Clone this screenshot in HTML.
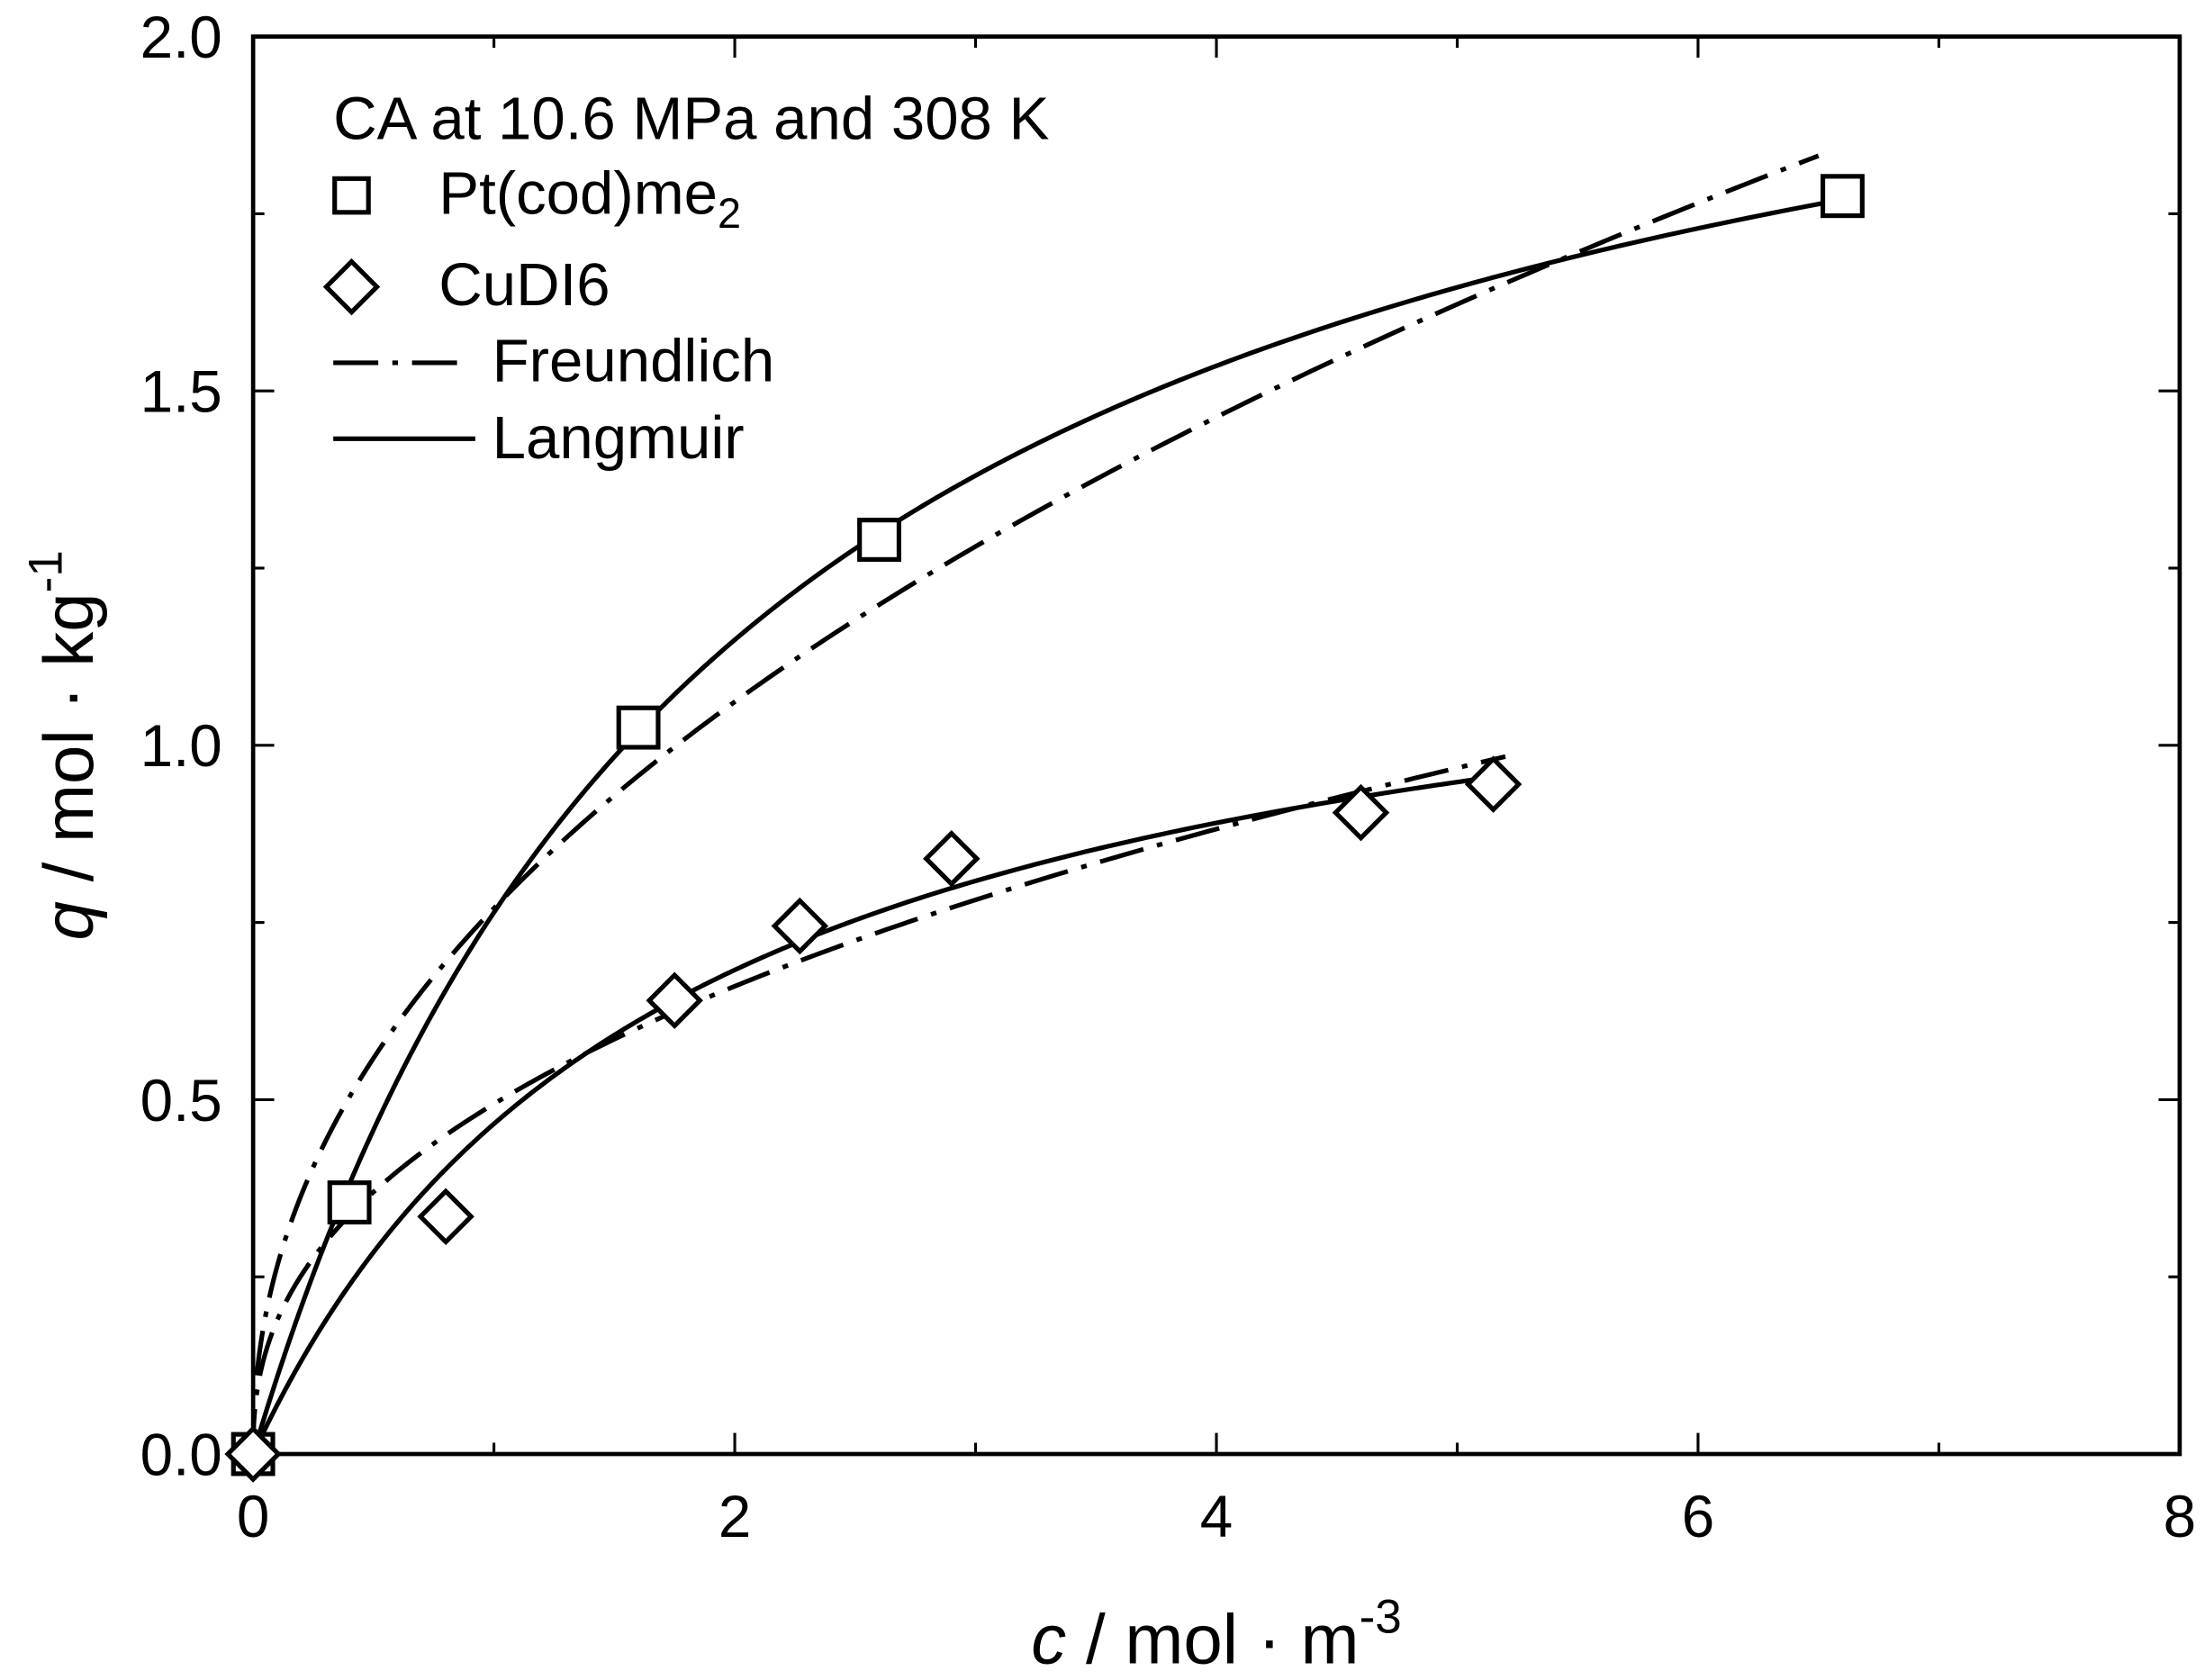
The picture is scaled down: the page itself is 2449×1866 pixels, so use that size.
<!DOCTYPE html>
<html><head><meta charset="utf-8"><style>
html,body{margin:0;padding:0;background:#fff;}
svg{display:block;}
text{font-family:"Liberation Sans",Arial,sans-serif;fill:#000;}
</style></head><body>
<svg id="s" width="2449" height="1866" viewBox="0 0 1568 1194.7" preserveAspectRatio="none" xmlns="http://www.w3.org/2000/svg">
<rect width="1568" height="1195" fill="#fff"/>
<g id="ticks" stroke="#000" stroke-width="2"></g>
<rect x="180" y="26" width="1370" height="1008" fill="none" stroke="#000" stroke-width="3"/>
<g font-size="42" text-anchor="end">
<text x="158" y="41">2.0</text>
<text x="158" y="293">1.5</text>
<text x="158" y="545">1.0</text>
<text x="158" y="797">0.5</text>
<text x="158" y="1049">0.0</text>
</g>
<g font-size="42" text-anchor="middle">
<text x="180" y="1093">0</text>
<text x="522.5" y="1093">2</text>
<text x="865" y="1093">4</text>
<text x="1207.5" y="1093">6</text>
<text x="1550" y="1093">8</text>
</g>
<text x="865" y="1183" font-size="50" text-anchor="middle"><tspan font-style="italic">c</tspan> / mol · m<tspan font-size="34" dy="-22">-3</tspan></text>
<text transform="translate(66,530) rotate(-90)" font-size="50" text-anchor="middle"><tspan font-style="italic">q</tspan> / mol · kg<tspan font-size="34" dy="-22">-1</tspan></text>
<g id="curves" fill="none" stroke="#000" stroke-width="3.3"></g>
<g id="marks" fill="#fff" stroke="#000" stroke-width="3.3"></g>
<g font-size="43">
<text x="237" y="99">CA at 10.6 MPa and 308 K</text>
<text x="312" y="152">Pt(cod)me<tspan font-size="30" dy="10">2</tspan></text>
<text x="312" y="217">CuDI6</text>
<text x="350" y="271">Freundlich</text>
<text x="350" y="326">Langmuir</text>
</g>
<rect x="238" y="127" width="24" height="24" fill="#fff" stroke="#000" stroke-width="3.3"/>
<polygon points="250,186 268,204 250,222 232,204" fill="#fff" stroke="#000" stroke-width="3.3"/>
<line x1="237" y1="258" x2="335" y2="258" stroke="#000" stroke-width="3.3" stroke-dasharray="32,10,4,10"/>
<line x1="237" y1="312" x2="338" y2="312" stroke="#000" stroke-width="3.3"/>
<script>
var X=function(c){return 180+c*171.25},Y=function(q){return 1034-q*504};
var NS="http://www.w3.org/2000/svg";
function el(p,t,a){var e=document.createElementNS(NS,t);for(var k in a)e.setAttribute(k,a[k]);document.getElementById(p).appendChild(e);return e;}
for(var v=1;v<8;v++){var x=X(v),L=(v%2==0)?15:8;el("ticks","line",{x1:x,y1:1034,x2:x,y2:1034-L});el("ticks","line",{x1:x,y1:26,x2:x,y2:26+L});}
for(var j=1;j<8;j++){var y=Y(j*0.25),L=(j%2==0)?15:8;el("ticks","line",{x1:180,y1:y,x2:180+L,y2:y});el("ticks","line",{x1:1550,y1:y,x2:1550-L,y2:y});}
function curve(f,c0,c1,dash){var d="";for(var k=0;k<=300;k++){var c=c0+(c1-c0)*Math.pow(k/300,2);d+=(k?"L":"M")+X(c).toFixed(2)+","+Y(f(c)).toFixed(2);}var a={d:d};if(dash)a["stroke-dasharray"]="32,10,4,10";el("curves","path",a);}
curve(function(c){return 2.314*0.493*c/(1+0.493*c)},0,6.6);
curve(function(c){return 0.77*Math.pow(c,0.463)},0,6.5,1);
curve(function(c){return 1.279*0.573*c/(1+0.573*c)},0,5.15);
curve(function(c){return 0.494*Math.pow(c,0.418)},0,5.2,1);
[[0,0],[0.4,0.355],[1.6,1.025],[2.6,1.29],[6.6,1.775]].forEach(function(p){el("marks","rect",{x:X(p[0])-14,y:Y(p[1])-14,width:28,height:28});});
[[0,0],[0.8,0.335],[1.75,0.64],[2.27,0.745],[2.9,0.84],[4.6,0.905],[5.15,0.945]].forEach(function(p){var x=X(p[0]),y=Y(p[1]);el("marks","polygon",{points:x+","+(y-18)+" "+(x+18)+","+y+" "+x+","+(y+18)+" "+(x-18)+","+y});});
</script>
</svg>
</body></html>
